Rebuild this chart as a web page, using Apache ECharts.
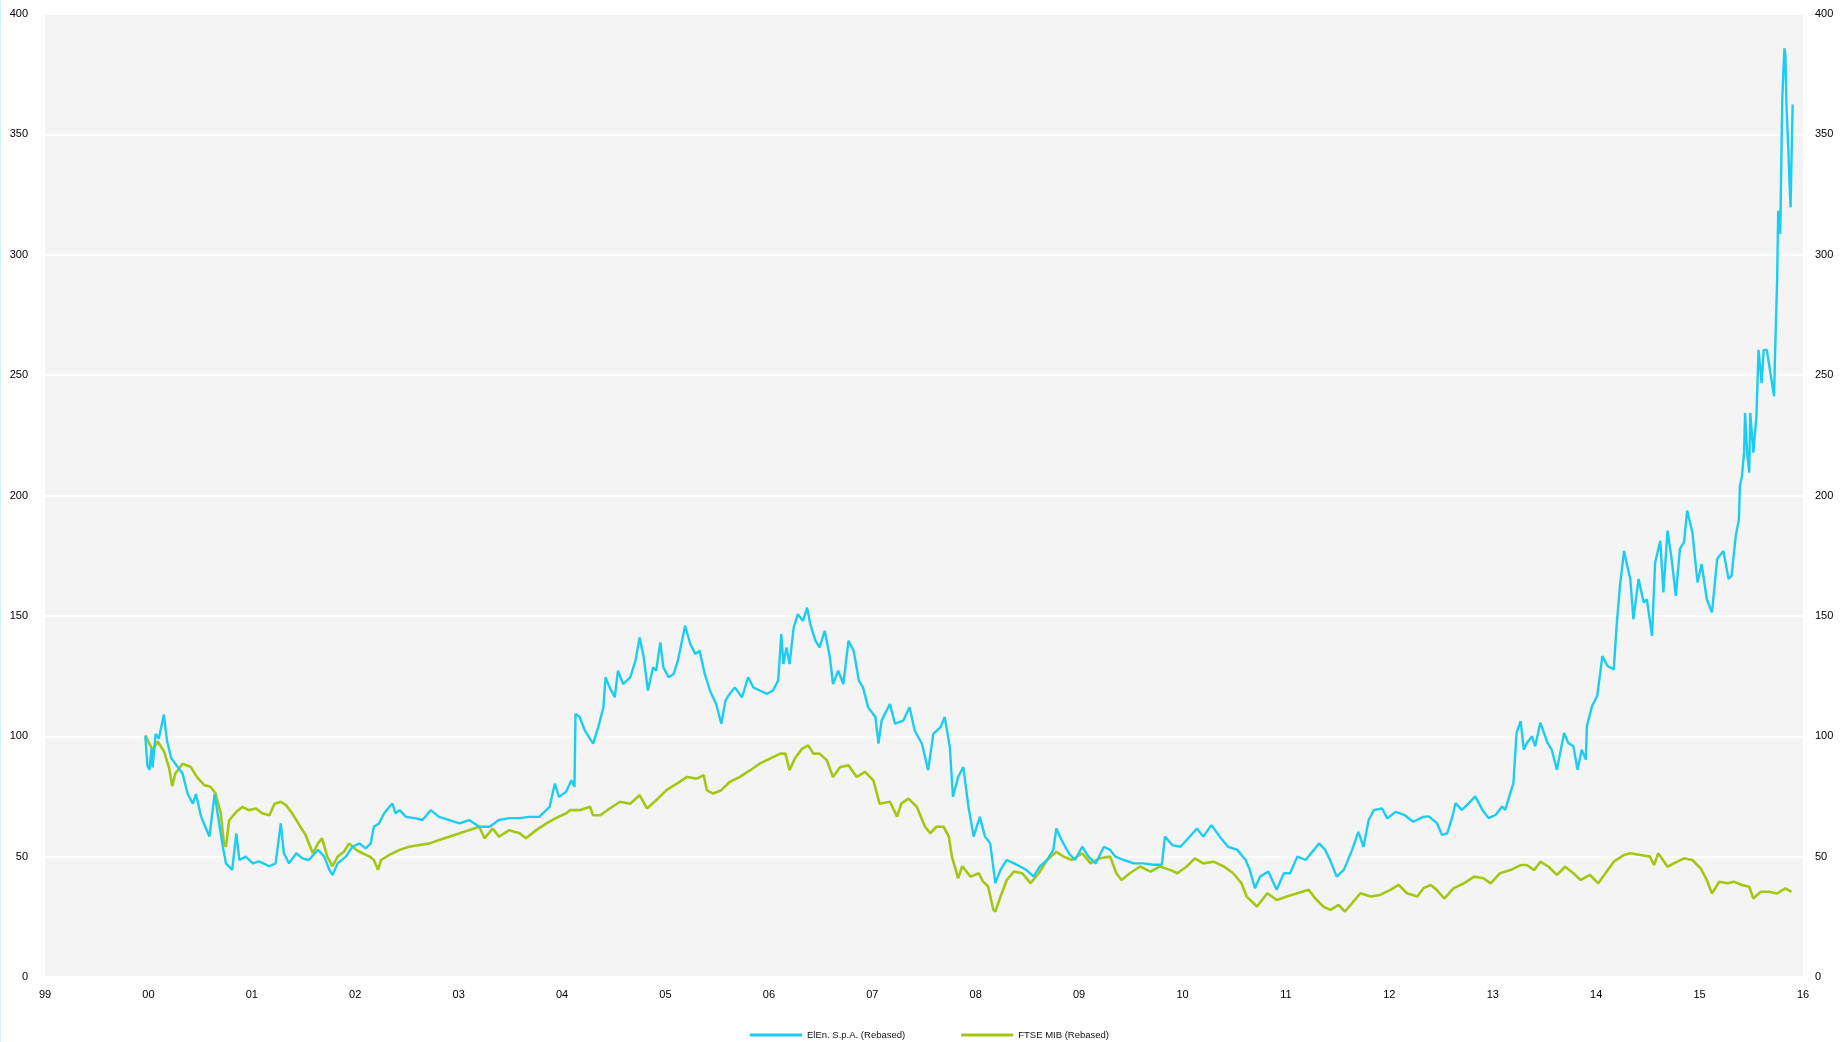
<!DOCTYPE html>
<html>
<head>
<meta charset="utf-8">
<script src="https://cdn.jsdelivr.net/npm/echarts@6/dist/echarts.min.js"></script>
<style>
html, body { margin: 0; padding: 0; background: #fff; }
#main { width: 1848px; height: 1042px; }
#edge { position: absolute; left: 0; top: 0; width: 1px; height: 1042px; background: #d8f2fa; }
</style>
</head>
<body>
<div id="main"></div>
<div id="edge"></div>
<script>
// decimal years / rebased values
var elenYears = [1999.97,1999.99,2000.01,2000.03,2000.04,2000.07,2000.10,2000.12,2000.15,2000.18,2000.22,2000.26,2000.33,2000.38,2000.43,2000.46,2000.51,2000.55,2000.59,2000.64,2000.68,2000.72,2000.75,2000.81,2000.85,2000.88,2000.94,2001.01,2001.07,2001.17,2001.23,2001.28,2001.31,2001.36,2001.43,2001.49,2001.55,2001.64,2001.70,2001.75,2001.78,2001.83,2001.91,2001.97,2002.04,2002.10,2002.15,2002.18,2002.23,2002.28,2002.33,2002.36,2002.39,2002.43,2002.49,2002.59,2002.65,2002.73,2002.81,2002.91,2003.01,2003.10,2003.20,2003.30,2003.39,2003.49,2003.59,2003.68,2003.78,2003.88,2003.93,2003.97,2004.04,2004.09,2004.12,2004.13,2004.17,2004.22,2004.30,2004.35,2004.40,2004.42,2004.46,2004.51,2004.54,2004.59,2004.66,2004.71,2004.75,2004.79,2004.83,2004.88,2004.91,2004.95,2004.98,2005.03,2005.08,2005.12,2005.16,2005.19,2005.24,2005.29,2005.33,2005.38,2005.43,2005.49,2005.54,2005.58,2005.62,2005.67,2005.74,2005.80,2005.85,2005.91,2005.98,2006.04,2006.09,2006.12,2006.14,2006.17,2006.20,2006.24,2006.28,2006.33,2006.37,2006.40,2006.45,2006.49,2006.54,2006.59,2006.62,2006.67,2006.72,2006.77,2006.82,2006.87,2006.91,2006.96,2007.03,2007.06,2007.09,2007.17,2007.22,2007.30,2007.36,2007.41,2007.48,2007.54,2007.59,2007.66,2007.70,2007.75,2007.78,2007.83,2007.88,2007.93,2007.98,2008.04,2008.09,2008.14,2008.19,2008.24,2008.30,2008.37,2008.43,2008.49,2008.56,2008.62,2008.69,2008.75,2008.78,2008.83,2008.90,2008.96,2009.03,2009.09,2009.16,2009.24,2009.30,2009.35,2009.43,2009.53,2009.62,2009.72,2009.80,2009.83,2009.90,2009.98,2010.04,2010.14,2010.20,2010.28,2010.36,2010.44,2010.53,2010.61,2010.65,2010.70,2010.75,2010.83,2010.91,2010.98,2011.04,2011.11,2011.19,2011.27,2011.32,2011.38,2011.44,2011.49,2011.56,2011.64,2011.70,2011.75,2011.80,2011.85,2011.93,2011.98,2012.06,2012.15,2012.23,2012.33,2012.38,2012.46,2012.51,2012.56,2012.61,2012.64,2012.70,2012.77,2012.83,2012.90,2012.96,2013.03,2013.09,2013.12,2013.17,2013.20,2013.23,2013.27,2013.30,2013.33,2013.38,2013.41,2013.46,2013.53,2013.57,2013.62,2013.69,2013.73,2013.78,2013.82,2013.86,2013.90,2013.91,2013.96,2014.01,2014.06,2014.11,2014.17,2014.20,2014.23,2014.27,2014.30,2014.33,2014.36,2014.41,2014.46,2014.49,2014.54,2014.57,2014.62,2014.65,2014.69,2014.73,2014.77,2014.81,2014.85,2014.88,2014.93,2014.98,2015.02,2015.07,2015.12,2015.17,2015.23,2015.28,2015.31,2015.35,2015.38,2015.39,2015.41,2015.43,2015.44,2015.46,2015.48,2015.49,2015.52,2015.55,2015.57,2015.60,2015.62,2015.65,2015.68,2015.72,2015.73,2015.75,2015.76,2015.78,2015.79,2015.80,2015.82,2015.83,2015.84,2015.86,2015.87,2015.88,2015.89,2015.90];
var elenValues = [100,88,86,95,87,101,99,103,109,98,91,88.6,84.5,76,72,76,66.5,62.4,58.3,76,65,54,47.2,44.5,59.6,48.6,50,47.2,48,46,47.2,63.8,51.4,47.2,51.4,49.3,48.6,52.8,50,44.5,42.4,47.2,50,54,55.5,53.4,55.5,62.4,63.8,68,70.7,72,68,69.3,66.5,65.9,65.2,69.3,66.5,65.2,63.8,65.2,62.4,62.4,65.2,66,66,66.5,66.5,70.7,80.3,74.8,77,81.7,79,109.3,108,102.4,96.9,103.8,112,124.5,120.3,116.2,127.2,121.7,124.5,131.4,141,132.8,119,128.6,127.2,139,128.6,124.5,125.9,131.4,139.7,145.9,138.3,134.1,135.5,125.9,119,113.4,105.2,114.8,117.6,120.3,116.2,124.5,120.3,119,117.6,119,123.1,142.4,130,136.9,130,145.2,150.7,147.9,153.4,146.6,139.7,136.9,143.8,132.8,121.7,127.2,121.7,139.7,135.5,123.1,120.3,112,108,96.9,106.5,113.4,105.2,106.5,112,102.4,96.9,85.9,101,103.8,108,95.5,74.8,83.1,87.2,70.7,58.3,66.5,58.3,55.5,39,44.5,48.6,47.2,45.9,44.5,41.7,45.9,48.6,52.8,61.7,56.9,51.4,48.6,54.1,50,47.2,54.1,52.8,50,48.6,47.2,47.2,46.6,46.6,58.3,54.8,54.1,56.9,61.7,58.3,63.1,58.3,54.1,52.8,48.6,44.5,36.9,41.7,43.8,36.2,43.1,43.1,50,48.6,52.8,55.5,52.8,47.2,41.7,44.5,52.8,60.3,54.1,65.2,69.3,70,65.9,68.6,67.2,64.5,66.5,66.7,63.9,59,59.7,66.7,72.2,69.4,72.2,75,69.4,66,67.4,70.8,69.4,76.4,80.6,101.4,106.3,94.4,97.2,100,95.8,105.6,97.2,94.4,86.1,101.4,97.2,95.8,86.1,94.4,90.3,104.2,112.5,116.7,133.3,129.2,127.8,147.2,162.5,177,170.8,165.3,148.6,165.3,155.6,156.9,141.7,172.2,181.2,159.7,185.4,173.6,158.3,177.8,180.6,193.8,184.7,163.9,171.5,156.9,151.4,173.6,177,165.3,166.7,183.3,190,204,208,217.8,234.3,217.8,209.5,234.3,217.8,232.9,260.5,246.7,260.5,260.5,252.2,241.2,259.1,289.4,318.3,308.7,337.6,364.9,385.8,383,362.4,341.7,329.3,319.7,341.7,362.4];

var ftseYears = [1999.97,2000.00,2000.04,2000.09,2000.10,2000.15,2000.20,2000.23,2000.26,2000.33,2000.41,2000.47,2000.54,2000.60,2000.65,2000.70,2000.73,2000.75,2000.78,2000.85,2000.91,2000.97,2001.04,2001.10,2001.17,2001.22,2001.28,2001.33,2001.39,2001.46,2001.52,2001.59,2001.64,2001.68,2001.73,2001.78,2001.83,2001.89,2001.94,2002.01,2002.07,2002.14,2002.18,2002.22,2002.25,2002.33,2002.43,2002.52,2002.62,2002.72,2002.81,2002.91,2003.01,2003.10,2003.20,2003.25,2003.33,2003.39,2003.49,2003.59,2003.65,2003.75,2003.85,2003.94,2004.04,2004.08,2004.17,2004.27,2004.30,2004.37,2004.46,2004.56,2004.66,2004.75,2004.82,2004.91,2005.01,2005.11,2005.21,2005.30,2005.37,2005.40,2005.46,2005.54,2005.62,2005.72,2005.82,2005.91,2006.01,2006.11,2006.16,2006.20,2006.25,2006.32,2006.38,2006.43,2006.49,2006.56,2006.62,2006.69,2006.77,2006.85,2006.93,2007.01,2007.07,2007.17,2007.24,2007.28,2007.35,2007.43,2007.51,2007.56,2007.62,2007.69,2007.74,2007.77,2007.83,2007.87,2007.95,2008.03,2008.07,2008.12,2008.17,2008.19,2008.24,2008.30,2008.37,2008.45,2008.53,2008.61,2008.69,2008.78,2008.85,2008.93,2009.03,2009.11,2009.20,2009.30,2009.36,2009.41,2009.49,2009.59,2009.69,2009.78,2009.88,2009.95,2010.04,2010.12,2010.20,2010.30,2010.40,2010.49,2010.57,2010.62,2010.72,2010.82,2010.91,2011.01,2011.11,2011.22,2011.28,2011.36,2011.43,2011.51,2011.57,2011.64,2011.72,2011.82,2011.91,2012.01,2012.09,2012.17,2012.27,2012.33,2012.40,2012.46,2012.53,2012.62,2012.72,2012.82,2012.91,2012.98,2013.07,2013.17,2013.27,2013.33,2013.40,2013.46,2013.54,2013.62,2013.70,2013.78,2013.85,2013.94,2014.02,2014.09,2014.17,2014.27,2014.33,2014.43,2014.52,2014.56,2014.60,2014.69,2014.75,2014.85,2014.93,2015.01,2015.07,2015.12,2015.19,2015.27,2015.33,2015.41,2015.48,2015.52,2015.59,2015.67,2015.75,2015.83,2015.89];
var ftseValues = [100.4,97.8,94.3,97.8,98.5,93.8,86.9,79.3,84.5,88.6,87.2,83,79.7,79,76.2,68,55.5,54.1,65,68.6,70.7,69.3,70,68,67.2,72,72.8,71.4,68,63.1,59,51.4,55.5,57.6,50,46,50,52,55.5,52.8,51.4,50,48.6,44.5,48.6,50.7,52.8,54.1,54.8,55.5,56.9,58.3,59.7,61,62.4,57.6,61.7,58.3,61,59.7,57.6,61,63.8,66,68,69.3,69.3,70.7,67.2,67.2,70,72.8,72,75.5,70,73.4,77.6,80.3,83.1,82.4,83.8,77.6,76.2,77.6,81,83.1,85.9,88.6,90.7,92.8,92.8,85.9,90.7,94.8,96.2,92.8,92.8,90,83.1,87.2,87.9,83.1,85.2,81.7,72,72.8,66.6,72,74.1,70.7,62.4,59.7,62.4,62.4,58.3,50,41,46,41.7,43.1,39.7,37.6,28,27.2,33.4,40.3,43.8,43.1,39,43.1,48.6,52,50,48.6,51.4,47.2,49.3,50,43.1,40.3,43.1,45.9,43.8,45.9,44.5,43.1,45.9,49.3,47.2,47.9,45.9,43.1,39,33.4,29.3,34.8,32,33.4,34.8,36.2,32.8,29.3,27.9,30,27.2,30.7,34.8,33.4,34.1,36.2,38.3,34.8,33.4,36.9,38.2,36.1,32.6,36.8,38.9,41.7,41,38.9,43.1,44.4,46.5,46.5,44.4,47.9,45.8,42.4,45.8,43.1,40.3,42.4,38.9,43.1,47.9,50.7,51.4,50.7,50,46.5,51.4,45.8,47.2,49.3,48.6,45.1,40.3,34.7,39.6,38.9,39.6,38.2,37.5,32.6,35.4,35.4,34.7,36.8,35.4];

var seriesNames = ['ElEn. S.p.A. (Rebased)', 'FTSE MIB (Rebased)'];
var yTicks = [0, 400, 50];
var xYears = [1999, 2016];

function pairs(xs, ys) {
  return xs.map(function (x, i) { return [x, ys[i]]; });
}

var myChart = echarts.init(document.getElementById('main'));

var font = '"Liberation Sans", Arial, sans-serif';
var labelStyle = { color: '#000', fontSize: 11, fontFamily: font };

var option = {
  animation: false,
  backgroundColor: '#fff',
  grid: {
    left: 45, right: 45, top: 14, bottom: 65,
    show: true, backgroundColor: '#f4f4f4', borderWidth: 0
  },
  legend: {
    data: seriesNames,
    left: 745, top: 1025,
    icon: 'rect', itemWidth: 52, itemHeight: 3, itemGap: 56,
    textStyle: { color: '#111', fontSize: 9.5, fontFamily: font }
  },
  xAxis: {
    type: 'value',
    min: xYears[0], max: xYears[1], interval: 1,
    axisLine: { show: false },
    axisTick: { show: false },
    splitLine: { show: false },
    axisLabel: Object.assign({
      margin: 12,
      formatter: function (v) { return ('0' + (Math.round(v) % 100)).slice(-2); }
    }, labelStyle)
  },
  yAxis: [
    {
      type: 'value', min: yTicks[0], max: yTicks[1], interval: yTicks[2],
      position: 'left',
      axisLine: { show: false }, axisTick: { show: false },
      splitLine: { show: true, lineStyle: { color: '#ffffff', width: 2 } },
      axisLabel: Object.assign({ margin: 17 }, labelStyle)
    },
    {
      type: 'value', min: yTicks[0], max: yTicks[1], interval: yTicks[2],
      position: 'right',
      axisLine: { show: false }, axisTick: { show: false },
      splitLine: { show: false },
      axisLabel: Object.assign({ margin: 12 }, labelStyle)
    }
  ],
  series: [
    {
      name: seriesNames[0], type: 'line', showSymbol: false,
      data: pairs(elenYears, elenValues),
      itemStyle: { color: '#1ccdf2' },
      lineStyle: { color: '#1ccdf2', width: 2.4 },
      z: 3
    },
    {
      name: seriesNames[1], type: 'line', showSymbol: false,
      data: pairs(ftseYears, ftseValues),
      itemStyle: { color: '#a4c714' },
      lineStyle: { color: '#a4c714', width: 2.6 },
      z: 2
    }
  ]
};
myChart.setOption(option);
</script>
</body>
</html>
